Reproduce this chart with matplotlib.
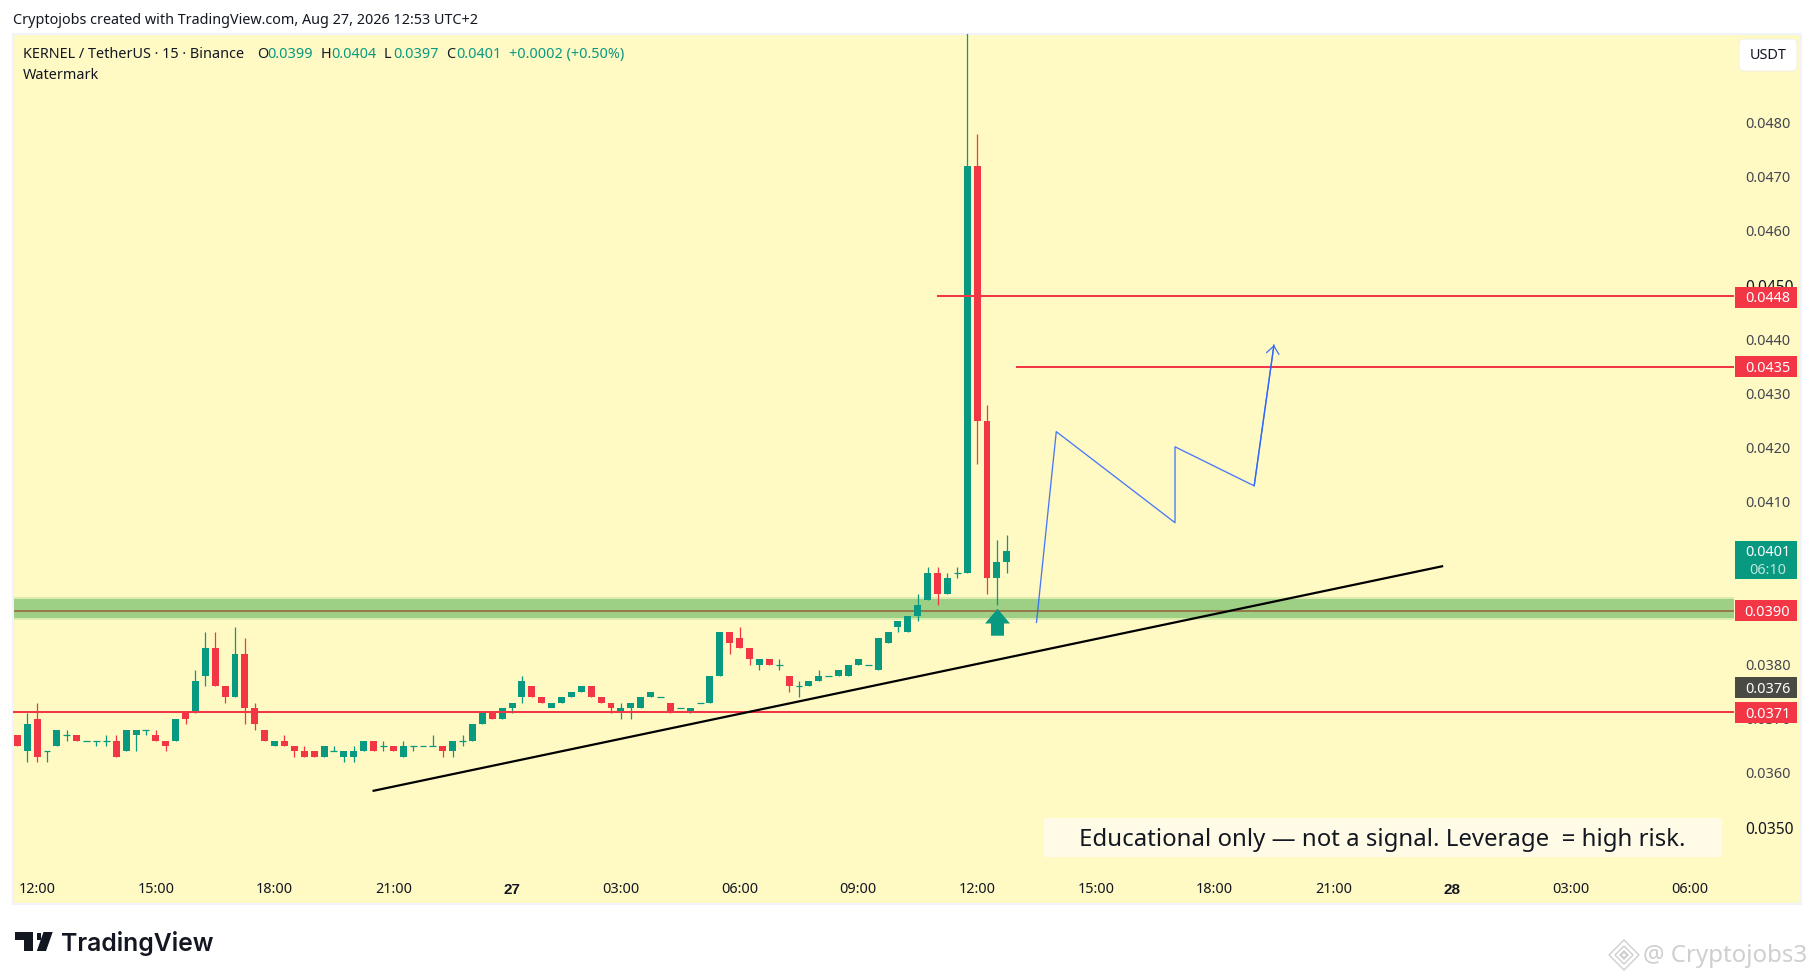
#!/usr/bin/env python3
# -*- coding: utf-8 -*-
import numpy as np
import matplotlib
matplotlib.use('Agg')
import matplotlib.pyplot as plt
from matplotlib.patches import Rectangle, Polygon, FancyBboxPatch
from matplotlib.path import Path
from matplotlib.transforms import IdentityTransform

plt.rcParams['font.family'] = ['Noto Sans', 'DejaVu Sans']

W, H = 1814, 980
GREEN = '#089981'
RED = '#F23645'
PANE = '#FFF9C4'

# ============ candles, price in 1e-4 USDT ============
opens = [367, 364, 370, 364, 365, 367, 367, 366, 366, 366, 366, 364, 367, 368, 367, 366, 366, 371, 371, 378,
         383, 376, 374, 382, 372, 368, 365, 366, 365, 364, 364, 363, 364, 363, 363, 364, 366, 365, 365, 363,
         365, 365, 365, 365, 364, 366, 366, 369, 371, 370, 372, 374, 376, 374, 372, 373, 374, 375, 376, 374,
         373, 371, 372, 372, 374, 374, 373, 372, 371, 373, 373, 378, 386, 385, 383, 380, 381, 380, 378, 376,
         376, 377, 378, 378, 378, 380, 380, 379, 384, 387, 386, 389, 392, 397, 393, 397, 397, 472, 425, 396, 399]
closes = [365, 369, 363, 364, 368, 367, 366, 366, 366, 366, 363, 368, 368, 368, 366, 365, 370, 370, 377, 383,
          376, 374, 382, 372, 369, 366, 366, 365, 364, 363, 363, 365, 364, 364, 364, 366, 364, 365, 364, 365,
          365, 365, 365, 364, 366, 366, 369, 371, 370, 372, 373, 377, 374, 373, 373, 374, 375, 376, 374, 373,
          372, 372, 373, 374, 375, 374, 371, 372, 372, 373, 378, 386, 384, 383, 381, 381, 380, 380, 376, 376,
          377, 378, 378, 379, 380, 381, 380, 385, 386, 388, 389, 391, 397, 393, 396, 397, 472, 425, 396, 399, 401]
highs = [367, 371, 373, 364, 368, 368, 367, 366, 366, 367, 367, 368, 368, 368, 368, 366, 370, 371, 379, 386,
         386, 376, 387, 385, 373, 368, 366, 367, 365, 365, 364, 365, 365, 364, 365, 366, 366, 366, 365, 366,
         365, 365, 367, 365, 366, 367, 369, 371, 371, 372, 373, 378, 376, 374, 373, 374, 375, 376, 376, 374,
         373, 373, 373, 374, 375, 374, 373, 372, 372, 373, 378, 386, 386, 387, 383, 381, 381, 381, 378, 377,
         377, 379, 378, 379, 380, 381, 380, 385, 386, 388, 389, 393, 398, 398, 397, 398, 500, 478, 428, 403, 404]
lows = [365, 362, 362, 362, 365, 366, 366, 366, 365, 365, 363, 364, 364, 367, 366, 364, 366, 369, 371, 376,
        376, 373, 374, 369, 368, 366, 365, 365, 363, 363, 363, 363, 364, 362, 362, 364, 364, 364, 364, 363,
        364, 365, 365, 363, 363, 365, 366, 369, 370, 370, 371, 373, 374, 373, 373, 373, 374, 375, 374, 373,
        371, 370, 370, 372, 374, 374, 371, 372, 371, 373, 373, 378, 382, 383, 380, 379, 380, 379, 375, 374,
        376, 377, 378, 378, 378, 380, 380, 379, 384, 386, 386, 388, 392, 391, 393, 396, 397, 417, 393, 391, 397]

y_tick_values = [480, 470, 460, 450, 440, 430, 420, 410, 380, 370, 360, 350]
y_tick_strong = [450, 350]
x_tick_bars = [2, 14, 26, 38, 50, 61, 73, 85, 97, 109, 121, 133, 145, 157, 169]
x_tick_labels = ['12:00', '15:00', '18:00', '21:00', '27', '03:00', '06:00', '09:00',
                 '12:00', '15:00', '18:00', '21:00', '28', '03:00', '06:00']

zigzag_bars = [103.0, 105.0, 117.0, 117.0, 125.0, 127.0]
zigzag_prices = [387.8, 423.0, 406.2, 420.2, 413.0, 439.0]
trend_bars = [35.9, 144.1]
trend_prices = [356.7, 398.2]

level_448 = 448
level_435 = 435
level_371 = 371.3
zone_low, zone_high = 388.6, 392.1
zone_mid = 390
arrow_bar = 99
arrow_price = 387.75

# ============ layout ============
PANE_L, PANE_R, PANE_T, PANE_B = 13, 1801, 34, 904
LINE_END = 1734
TEXT_DY = 1.5


def fx(px):
    return px / W


def fy(py):
    return 1 - py / H


def bar_of(px):
    return (px - 17.3) / 9.895


def px_text(x, y, s, size=10.4, color='#131722', ha='left', va='center', **kw):
    return fig.text(fx(x), fy(y + TEXT_DY), s, fontsize=size, color=color, ha=ha, va=va, **kw)


fig = plt.figure(figsize=(W / 100, H / 100), dpi=100, facecolor='white')
ax = fig.add_axes([fx(PANE_L), fy(PANE_B), fx(PANE_R - PANE_L), (PANE_B - PANE_T) / H])
ax.set_facecolor(PANE)
ax.set_xlim(bar_of(PANE_L), bar_of(PANE_R))
ax.set_ylim(480 - (PANE_B - 122.7) / 5.42, 480 + (122.7 - PANE_T) / 5.42)
ax.set_xticks([])
ax.set_yticks([])
for sp in ax.spines.values():
    sp.set_color('#F0F3FA')
    sp.set_linewidth(1.5)

# green zone + levels
right_bar = bar_of(LINE_END)
left_bar = bar_of(PANE_L)
ax.hlines(zone_mid, left_bar, right_bar, color=RED, lw=1.4, zorder=1)
ax.add_patch(Rectangle((left_bar, zone_low - 0.3), right_bar - left_bar, zone_high - zone_low + 0.7,
                       facecolor='#4CAF50', alpha=0.18, lw=0, zorder=2))
ax.add_patch(Rectangle((left_bar, zone_low), right_bar - left_bar, zone_high - zone_low,
                       facecolor='#4CAF50', alpha=0.44, lw=0, zorder=2))

# candles
opens_a, closes_a = np.array(opens, float), np.array(closes, float)
highs_a, lows_a = np.array(highs, float), np.array(lows, float)
bars = np.arange(len(opens))
up = closes_a >= opens_a
colors = np.where(up, GREEN, RED)
ax.vlines(bars, lows_a, highs_a, colors=colors, lw=0.9, zorder=3)
body_lo = np.minimum(opens_a, closes_a)
body_h = np.abs(closes_a - opens_a)
ax.bar(bars[body_h > 0], body_h[body_h > 0], bottom=body_lo[body_h > 0], width=0.7,
       color=colors[body_h > 0], lw=0, zorder=4)
ax.hlines(closes_a[body_h == 0], bars[body_h == 0] - 0.35, bars[body_h == 0] + 0.35,
          colors=colors[body_h == 0], lw=0.9, zorder=4)

# drawings
ax.hlines(level_448, bar_of(937), right_bar, color=RED, lw=1.45, zorder=5)
ax.hlines(level_435, bar_of(1016), right_bar, color=RED, lw=1.45, zorder=5)
ax.hlines(level_371, left_bar, right_bar, color=RED, lw=1.45, zorder=5)
ax.plot(trend_bars, trend_prices, color='black', lw=1.6, zorder=6, solid_capstyle='butt')
ax.plot(zigzag_bars, zigzag_prices, color='#2962FF', lw=0.95, alpha=0.85, zorder=6)
ax.annotate('', xy=(zigzag_bars[-1], zigzag_prices[-1]), xytext=(zigzag_bars[-2], zigzag_prices[-2]),
            arrowprops=dict(arrowstyle='->,head_length=0.55,head_width=0.45', color='#2962FF', lw=0.95,
                            alpha=0.85, shrinkA=0, shrinkB=0), zorder=6)
up_arrow = Path([(0, 1.18), (1, 0.0), (0.52, 0.0), (0.52, -0.98), (-0.52, -0.98), (-0.52, 0.0), (-1, 0.0), (0, 1.18)])
ax.plot([arrow_bar], [arrow_price], marker=up_arrow, ms=21.2, color=GREEN, mew=0, zorder=7)

# educational note
ax.add_patch(Rectangle((bar_of(1044), 480 - (857 - 122.7) / 5.42), bar_of(1722) - bar_of(1044), 39 / 5.42,
                       facecolor='#FFFBE6', lw=0, zorder=2))
px_text(1079, 838, 'Educational only — not a signal. Leverage  = high risk.', size=17.25, zorder=10)

# x axis labels
label_y = (PANE_B - 889.5) / (PANE_B - PANE_T)
for b, lab in zip(x_tick_bars, x_tick_labels):
    if lab in ('27', '28'):
        ax.text(b, label_y, lab, transform=ax.get_xaxis_transform(), fontsize=11, color='#131722',
                ha='center', va='center', fontweight='bold', family='Liberation Sans')
    else:
        ax.text(b, label_y, lab, transform=ax.get_xaxis_transform(), fontsize=10.4, color='#131722',
                ha='center', va='center')

# y axis labels
for v in y_tick_values:
    strong = v in y_tick_strong
    ax.annotate(f'{v / 10000:.4f}', xy=((1745.5 - PANE_L) / (PANE_R - PANE_L), v),
                xycoords=('axes fraction', 'data'), xytext=(0, -TEXT_DY - (1 if strong else 0)),
                textcoords='offset pixels', fontsize=11.2 if strong else 10.4,
                color='#131722' if strong else '#434651', ha='left', va='center', zorder=8)


def price_tag(y, s, color, h=21):
    fig.patches.append(Rectangle((fx(1735), fy(y + h / 2)), 62 / W, h / H, transform=fig.transFigure,
                                 facecolor=color, lw=0, zorder=5))
    px_text(1767.5, y, s, color='white', ha='center', zorder=6)


price_tag(297.3, '0.0448', RED)
price_tag(367.0, '0.0435', RED)
price_tag(610.7, '0.0390', RED)
price_tag(687.7, '0.0376', '#4A4A45')
price_tag(712.7, '0.0371', RED)
fig.patches.append(Rectangle((fx(1735), fy(579)), 62 / W, 38 / H, transform=fig.transFigure,
                             facecolor=GREEN, lw=0, zorder=5))
px_text(1767.5, 551.5, '0.0401', color='white', ha='center', zorder=6)
px_text(1767.5, 569.5, '06:10', color='#BFE4DC', ha='center', zorder=6)

# USDT button
fig.patches.append(FancyBboxPatch((1743, H - 67), 50, 24, transform=IdentityTransform(),
                                  boxstyle='round,pad=4,rounding_size=5', facecolor='white',
                                  edgecolor='#F0F0E0', lw=0.6, zorder=5))
px_text(1768, 54, 'USDT', ha='center', zorder=6)

# header
px_text(12.7, 18.5, 'Cryptojobs created with TradingView.com, Aug 27, 2026 12:53 UTC+2', size=10.35)
px_text(23, 53, 'KERNEL / TetherUS · 15 · Binance', size=10.4)
for x_lab, x_val, lab, val in [(257, 267, 'O', '0.0399'), (320.5, 331, 'H', '0.0404'),
                               (384, 393, 'L', '0.0397'), (446.6, 456, 'C', '0.0401')]:
    px_text(x_lab, 53, lab, size=10.4)
    px_text(x_val, 53, val, size=10.4, color=GREEN)
px_text(509, 53, '+0.0002 (+0.50%)', size=10.4, color=GREEN)
px_text(23, 74, 'Watermark', size=10.4)

# TradingView logo
LOGO = '#131722'
fig.patches.append(Polygon([(fx(15.3), fy(932)), (fx(32.5), fy(932)), (fx(32.5), fy(951)), (fx(24), fy(951)),
                            (fx(24), fy(939.5)), (fx(15.3), fy(939.5))], transform=fig.transFigure, facecolor=LOGO, lw=0))
fig.patches.append(Polygon([(fx(43.5), fy(932)), (fx(52.7), fy(932)), (fx(46), fy(951)), (fx(36.8), fy(951))],
                           transform=fig.transFigure, facecolor=LOGO, lw=0))
fig.patches.append(Polygon([(fx(36.5), fy(932.5)), (fx(40.5), fy(932.5)), (fx(40.5), fy(939.5)), (fx(36.5), fy(939.5))],
                           transform=fig.transFigure, facecolor=LOGO, lw=0))
px_text(61, 942, 'TradingView', size=17.8, color=LOGO, fontweight='semibold', family=['Inter', 'Noto Sans'])

# platform watermark
WM = '#CFCFCF'
for r, lw in ((15, 1.0), (9, 1.0), (3.5, 1.6)):
    fig.patches.append(Polygon([(fx(1624), fy(955 - r)), (fx(1624 + r), fy(955)), (fx(1624), fy(955 + r)), (fx(1624 - r), fy(955))],
                               closed=True, transform=fig.transFigure, facecolor='none', edgecolor=WM, lw=lw))
px_text(1643, 954.5, '@ Cryptojobs3', size=17.3, color=WM)

fig.savefig('out.png', dpi=100, facecolor='white')
